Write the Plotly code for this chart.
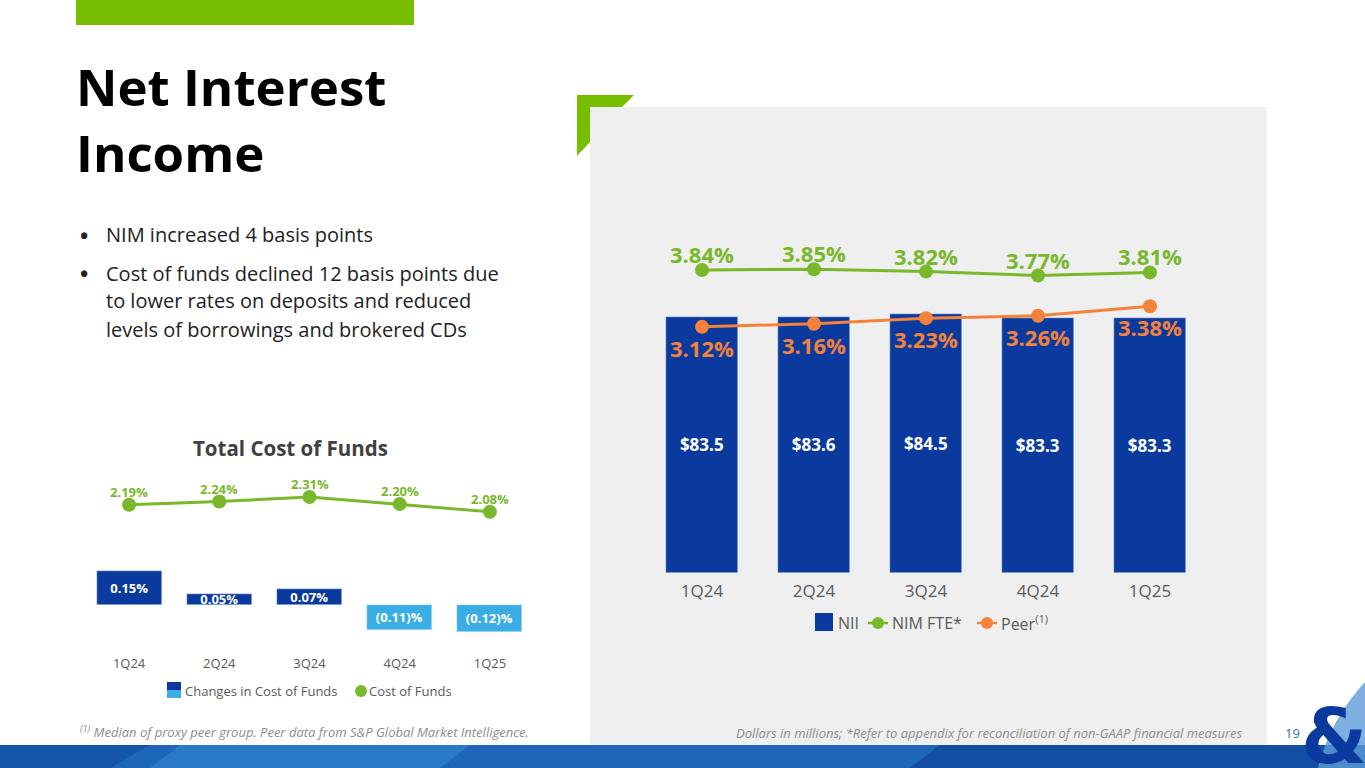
import plotly.graph_objects as go

# chart values
quarters = ["1Q24", "2Q24", "3Q24", "4Q24", "1Q25"]
nii = [83.5, 83.6, 84.5, 83.3, 83.3]
nim_fte = [3.84, 3.85, 3.82, 3.77, 3.81]
peer_nim = [3.12, 3.16, 3.23, 3.26, 3.38]

cof_change = [0.15, 0.05, 0.07, -0.11, -0.12]
cost_of_funds = [2.19, 2.24, 2.31, 2.20, 2.08]

bullets = [
    ["NIM increased 4 basis points"],
    ["Cost of funds declined 12 basis points due",
     "to lower rates on deposits and reduced",
     "levels of borrowings and brokered CDs"],
]

W, H = 1365, 768
BLUE = "#0B3A9F"
LBLUE = "#3AADE6"
GREEN = "#78B82A"
ORANGE = "#F4823A"
GREY_TXT = "#595959"
FONT = "Open Sans"


def px(x):
    return x / W


def py(y):
    return 1 - y / H


def pct_label(v):
    return f"{v:.2f}%" if v >= 0 else f"({abs(v):.2f})%"


fig = go.Figure()

# main chart: NII bars + NIM lines
fig.add_trace(go.Bar(
    x=quarters, y=nii, marker_color=BLUE, width=0.64,
    texttemplate="$%{y:.1f}", textposition="inside", insidetextanchor="middle",
    textfont=dict(color="white", size=17, family=FONT, weight="bold"),
    xaxis="x", yaxis="y", showlegend=False, hoverinfo="skip",
))
fig.add_trace(go.Scatter(
    x=quarters, y=nim_fte, mode="lines+markers",
    line=dict(color=GREEN, width=3), marker=dict(size=14, color=GREEN),
    xaxis="x", yaxis="y2", showlegend=False, cliponaxis=False,
))
fig.add_trace(go.Scatter(
    x=quarters, y=peer_nim, mode="lines+markers",
    line=dict(color=ORANGE, width=3), marker=dict(size=14, color=ORANGE),
    xaxis="x", yaxis="y2", showlegend=False, cliponaxis=False,
))

# small chart: total cost of funds
fig.add_trace(go.Bar(
    x=quarters, y=cof_change, width=0.72,
    marker_color=[BLUE if v >= 0 else LBLUE for v in cof_change],
    text=[pct_label(v) for v in cof_change], textposition="inside",
    insidetextanchor="middle", constraintext="none",
    textfont=dict(color="white", size=13, family=FONT, weight="bold"),
    xaxis="x2", yaxis="y3", showlegend=False, hoverinfo="skip",
))
fig.add_trace(go.Scatter(
    x=quarters, y=cost_of_funds, mode="lines+markers",
    line=dict(color=GREEN, width=3), marker=dict(size=14, color=GREEN),
    xaxis="x2", yaxis="y4", showlegend=False, cliponaxis=False,
))

hidden = dict(showgrid=False, zeroline=False, showticklabels=False, showline=False, fixedrange=True)

shapes = [
    # top green bar
    dict(type="rect", xref="paper", yref="paper", x0=px(76), x1=px(414), y0=py(25), y1=py(0),
         fillcolor="#78BE00", line_width=0, layer="below"),
    # grey panel
    dict(type="rect", xref="paper", yref="paper", x0=px(590), x1=px(1267), y0=py(745), y1=py(107),
         fillcolor="#EFEFEF", line_width=0, layer="below"),
    # green corner
    dict(type="path", xref="paper", yref="paper",
         path=f"M {px(577)} {py(95)} L {px(634)} {py(95)} L {px(622)} {py(107)} L {px(590)} {py(107)} "
              f"L {px(590)} {py(142)} L {px(577)} {py(156)} Z",
         fillcolor="#78BE00", line_width=0, layer="below"),
    # bottom band
    dict(type="rect", xref="paper", yref="paper", x0=0, x1=1, y0=0, y1=py(745),
         fillcolor="#1E66B8", line_width=0, layer="above"),
    dict(type="path", xref="paper", yref="paper",
         path=f"M {px(0)} {py(745)} L {px(150)} {py(745)} L {px(110)} {py(768)} L {px(0)} {py(768)} Z",
         fillcolor="#1656A8", line_width=0, layer="above"),
    dict(type="path", xref="paper", yref="paper",
         path=f"M {px(180)} {py(745)} L {px(470)} {py(745)} L {px(440)} {py(768)} L {px(150)} {py(768)} Z",
         fillcolor="#2A79C6", line_width=0, layer="above"),
    dict(type="path", xref="paper", yref="paper",
         path=f"M {px(940)} {py(745)} L {px(1365)} {py(745)} L {px(1365)} {py(768)} L {px(910)} {py(768)} Z",
         fillcolor="#124EA2", line_width=0, layer="above"),
    # light swoosh behind logo
    dict(type="path", xref="paper", yref="paper",
         path=f"M {px(1318)} {py(768)} Q {px(1330)} {py(720)} {px(1365)} {py(682)} L {px(1365)} {py(768)} Z",
         fillcolor="#5E9BD8", opacity=0.8, line_width=0, layer="above"),
    # main legend
    dict(type="rect", xref="paper", yref="paper", x0=px(815), x1=px(833), y0=py(631), y1=py(613),
         fillcolor=BLUE, line_width=0),
    dict(type="line", xref="paper", yref="paper", x0=px(868), x1=px(888), y0=py(623), y1=py(623),
         line=dict(color=GREEN, width=2.5)),
    dict(type="circle", xref="paper", yref="paper", x0=px(872), x1=px(884), y0=py(629), y1=py(617),
         fillcolor=GREEN, line_width=0),
    dict(type="line", xref="paper", yref="paper", x0=px(977), x1=px(997), y0=py(623), y1=py(623),
         line=dict(color=ORANGE, width=2.5)),
    dict(type="circle", xref="paper", yref="paper", x0=px(981), x1=px(993), y0=py(629), y1=py(617),
         fillcolor=ORANGE, line_width=0),
    # small legend
    dict(type="rect", xref="paper", yref="paper", x0=px(167), x1=px(181), y0=py(690), y1=py(682),
         fillcolor=BLUE, line_width=0),
    dict(type="rect", xref="paper", yref="paper", x0=px(167), x1=px(181), y0=py(698), y1=py(690),
         fillcolor=LBLUE, line_width=0),
    dict(type="circle", xref="paper", yref="paper", x0=px(355), x1=px(367), y0=py(697), y1=py(685),
         fillcolor=GREEN, line_width=0),
]


def note(x, y, text, size, color, xanchor="left", bold=False, italic=False, family=FONT):
    return dict(xref="paper", yref="paper", x=px(x), y=py(y), text=text, showarrow=False,
                xanchor=xanchor, yanchor="middle",
                font=dict(size=size, color=color, family=family,
                          weight="bold" if bold else "normal",
                          style="italic" if italic else "normal"))


def point_labels(values, xref, yref, color, size, shift):
    return [dict(x=q, y=v, xref=xref, yref=yref, text=f"{v:.2f}%", showarrow=False,
                 yshift=shift, xanchor="center", yanchor="middle",
                 font=dict(size=size, color=color, family=FONT, weight="bold"))
            for q, v in zip(quarters, values)]


annotations = [
    note(74, 86, "Net Interest", 51, "#000000", bold=True),
    note(74, 152, "Income", 51, "#000000", bold=True),
    note(290, 448, "Total Cost of Funds", 20.5, "#404040", xanchor="center", bold=True),
    note(836, 623, "NII", 16, GREY_TXT),
    note(890, 623, "NIM FTE*", 16, GREY_TXT),
    note(999, 623, "Peer<sup>(1)</sup>", 16, GREY_TXT),
    note(183, 691, "Changes in Cost of Funds", 13, GREY_TXT),
    note(367, 691, "Cost of Funds", 13, GREY_TXT),
    note(78, 731, "<sup>(1)</sup> Median of proxy peer group. Peer data from S&P Global Market Intelligence.",
         13, "#8C8C8C", italic=True),
    note(1245, 733, "Dollars in millions; *Refer to appendix for reconciliation of non-GAAP financial measures",
         13, "#8C8C8C", xanchor="right", italic=True),
    note(1283, 733, "19", 13, "#2F6DB5"),
    dict(xref="paper", yref="paper", x=px(1334), y=py(736), text="&", showarrow=False,
         xanchor="center", yanchor="middle",
         font=dict(size=76, color=BLUE, family="DejaVu Sans", weight="bold")),
]
annotations += point_labels(nim_fte, "x", "y2", GREEN, 22, 16)
annotations += point_labels(peer_nim, "x", "y2", ORANGE, 22, -21)
annotations += point_labels(cost_of_funds, "x2", "y4", GREEN, 13, 13)

line_y = 235
for group in bullets:
    annotations.append(note(78, line_y, "•", 22, "#222222", bold=True))
    for line in group:
        annotations.append(note(104, line_y, line, 20, "#222222"))
        line_y += 28
    line_y += 10

fig.update_layout(
    width=W, height=H,
    margin=dict(l=0, r=0, t=0, b=0),
    paper_bgcolor="white", plot_bgcolor="rgba(0,0,0,0)",
    font=dict(family=FONT, color=GREY_TXT),
    showlegend=False,
    bargap=0,
    xaxis=dict(domain=[px(646), px(1206)], range=[-0.5, 4.5], type="category",
               showgrid=False, zeroline=False, showline=False, ticks="",
               tickfont=dict(size=17, color=GREY_TXT), ticklabelstandoff=6, fixedrange=True),
    yaxis=dict(domain=[py(573), py(190)], range=[0, 383 / 3.06], **hidden),
    yaxis2=dict(domain=[py(573), py(190)], range=[0, 383 / 78.9], overlaying="y", **hidden),
    xaxis2=dict(domain=[px(84), px(535)], range=[-0.5, 4.5], type="category", anchor="y3",
                showgrid=False, zeroline=False, showline=False, ticks="",
                tickfont=dict(size=13, color=GREY_TXT), ticklabelstandoff=8, fixedrange=True),
    yaxis3=dict(domain=[py(646), py(470)], range=[-41 / 226, 135 / 226], anchor="x2", **hidden),
    yaxis4=dict(domain=[py(646), py(470)], range=[0, 176 / 64.5], anchor="x2", overlaying="y3", **hidden),
    shapes=shapes,
    annotations=annotations,
)

fig.write_html("out.html", config={"displayModeBar": False},
               post_script="document.body.style.margin='0';")
